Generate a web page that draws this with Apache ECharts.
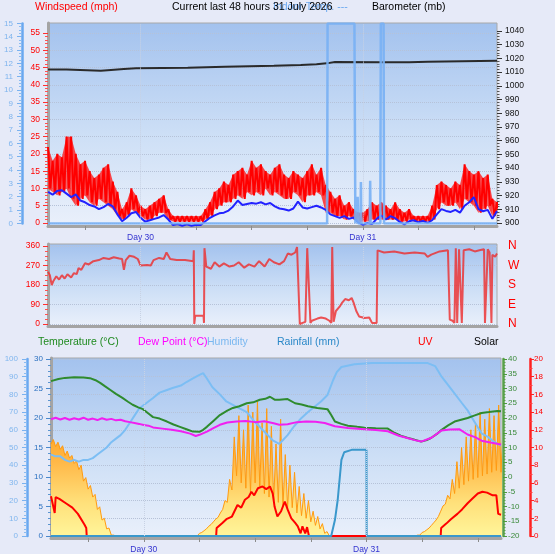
<!DOCTYPE html>
<html><head><meta charset="utf-8">
<script src="https://cdn.jsdelivr.net/npm/echarts@6/dist/echarts.min.js"></script>
<style>html,body{margin:0;padding:0;background:#e6eaf8}#c{width:555px;height:554px}</style>
</head><body><div id="c"></div>
<script>
// ---------- DATA (hours relative to midnight starting Day 30) ----------
const startHour = -10, stepHours = 0.5, endHour = 38.5;
const tickHours = [-6, 0, 6, 12, 18, 24, 30, 36];
const dayHours = [0, 24];
const dayLabels = ['Day 30', 'Day 31'];

// Wind (mph), half-hourly
const windAvg = [9.0,8.2,9.3,9.5,8.5,7.5,8.3,6.5,6.0,5.2, 4.8,4.0,4.6,5.5,4.8,2.5,0.5,1.5,2.8,3.2,
  1.5,0.4,0.8,1.2,1.6,2.3,1.0,-0.6,-0.3,-0.8, -0.4,-0.8,-0.5,-0.6,0.5,1.5,2.2,2.8,3.0,3.6,
  4.8,6.5,5.2,5.5,5.8,5.6,6.0,5.4,5.8,4.8, 4.2,4.0,3.6,4.2,6.2,4.5,4.2,4.6,5.0,4.5,
  3.8,2.5,2.0,1.5,2.0,1.2,1.6,0.2,-0.5,0.0, -0.3,1.2,2.2,1.0,2.0,1.4,0.3,-0.4,0.5,0.8,
  0.2,0.6,0.0,0.8,2.5,4.0,3.5,3.2,3.8,3.0, 5.0,6.0,7.5,4.0,3.4,3.8,1.2,3.5];
const gustHigh = [22,18,20,19,25,25,20,17,18,15, 13,14,16,17,12,9,4,6,10,8,
  5,4,5,6,7,8,4,2,2,2, 2,2,2,2,4,6,9,10,12,11,
  14,15,16,14,18,16,17,15,14,16, 17,14,13,15,14,13,15,17,14,16,
  11,9,7,8,5,6,4,3,3,4, 6,5,6,5,4,6,4,3,4,2,
  2,2,2,5,11,12,11,10,12,11, 17,15,14,15,13,14,7,6];
const gustLow = [10,9,8,9,10,7,5,7,8,6, 5,7,6,5,4,2,1,2,4,3,
  2,1,1,2,3,3,1,0.4,0.4,0.4, 0.4,0.4,0.4,0.4,1,2,4,5,6,6,
  7,8,7,9,8,9,8,10,8,9, 8,7,7,9,8,6,8,8,9,8,
  3,3,2,2,1,2,1,0.4,0.4,0.4, 1,1,1,1,1,1,0.4,0.4,1,0.4,
  0.4,0.4,0.4,1,4,6,5,5,6,4, 7,6,5,3,4,5,2,3];

// Barometer (mb)
const baroHours  = [-10,-8,-4.3,-3.2,-1.8,-0.5,5.1,9.1,14.4,17.3,19,20.1,21,26,29,31,38.5];
const baroValues = [1011.9,1011.0,1011.6,1012.3,1012.8,1013.2,1014.0,1014.7,1015.2,1015.7,1016.4,1017.4,1017.2,1017.3,1017.6,1018.3,1018.3];

// Rain rate (light blue, 0-15 axis)
const rateHours  = [-10,20.15,20.2,23.1,23.12,23.2,23.4,23.45,23.5,23.75,23.8,23.85,24.75,24.8,24.85,25.9,25.95,26.25,26.3,38.5];
const rateValues = [0,0,15,15,12,0,0,2,0,0,3.1,0,0,3.2,0,0,15,15,0,0];

// Wind direction (degrees)
const dirHours = [-10,-9.8,-9.6,-9.4,-9.1,-8.8,-8.5,-8.2,-7.9,-7.5,-7.2,-6.9,-6.7,-6.4,-6,-5.6,-5.1,-4.5,-4,-3.4,-2.9,-2.3,-2,-1.8,-1.6,-1.2,-0.7,-0.3,0,0.7,1.1,1.4,2,2.5,2.8,3.2,3.9,4.8,5.7,5.75,5.8,5.9,6.8,6.85,6.9,7.1,7.6,8,8.5,9,9.6,10.1,10.6,11.2,11.7,12.3,12.8,13.4,13.9,14.4,15,15.5,15.9,16.3,16.7,16.9,17.1,17.2,17.5,17.8,18,18.2,18.35,18.5,19.1,19.5,20,20.4,20.6,20.7,20.85,21.1,21.5,21.8,22.1,22.5,22.8,23,23.3,23.6,24.2,24.7,25,25.5,25.6,26.3,27.4,28.5,29.6,30.7,31,31.4,32.3,33.2,33.4,33.7,33.9,34.05,34.2,34.4,34.7,34.9,35.5,36.1,36.6,37.1,37.2,37.4,37.5,37.7,37.9,38,38.3,38.5];
const dirDegrees = [241,225,180,200,220,205,225,210,230,215,235,230,258,250,280,275,290,295,305,300,308,302,300,250,295,315,310,300,270,272,270,295,305,300,330,300,295,295,290,340,0,38,38,5,350,265,255,285,265,280,265,270,285,260,275,265,290,265,300,285,275,290,325,320,330,355,350,0,5,10,350,355,5,15,25,30,25,15,5,355,10,60,80,100,115,110,120,100,60,35,28,30,5,5,340,330,335,325,330,325,310,320,335,340,20,15,5,350,5,345,5,340,345,335,340,345,5,0,345,330,5,320,310,325];

// Temperature / dew point (°C), humidity (%)
const tempHours  = [-10,-9.8,-9.2,-8.5,-7.5,-6.5,-5.8,-5.2,-4.7,-4.2,-3.6,-3,-2.3,-1.7,-1.2,-0.6,-0.1,0.5,1,1.7,2.5,3.2,3.9,4.6,5.3,6,6.4,6.8,7.5,8.2,9,9.6,10.3,11.1,11.8,12.5,13.1,13.6,14.1,14.6,15.5,16.3,17,17.7,18.7,19.8,20.2,20.6,21.3,22,23,23.8,25,26.3,27,27.7,28.4,29.2,29.9,30.5,31,31.6,32.1,32.8,33.5,34.2,34.9,35.6,36.4,37.2,38.1,38.5];
const tempValues = [32.5,32.7,33.2,33.6,33.8,33.7,33.5,32.8,31.9,30.8,29.5,28.2,26.8,25.5,24.5,23.6,23.0,21.5,20.3,19.8,18.8,17.8,17.0,16.2,15.4,15.3,16,17,19,21,22.5,23.4,24,25,25.3,26.2,26.5,27.2,26.2,26.2,26.4,25,24.6,24,23.4,23,21,18.8,18,17.4,17,16.7,16.5,16.4,15,14,13.3,12.6,12,12.5,13.3,14.6,16,17.5,18.8,19.4,20,20.8,21.7,22,22.4,22.3];
const dewHours  = [-10,-9.5,-9,-8.5,-8,-7.5,-7,-6.5,-6,-5.5,-5,-4.5,-4,-3.5,-3,-2.5,-2,-1.5,-1,-0.5,0,0.5,1,2,3,4,5,5.6,6,6.8,7.5,8.2,9,10,11,12,13,14,14.6,15.5,16.5,17.5,18.5,19.5,20.6,22,23.8,25,26.3,27.5,28.4,29.2,29.9,31,32.1,33,34,34.9,35.7,36.4,37.5,38.5];
const dewValues = [19.6,20.1,19.5,20,19.4,19.9,19.5,20.1,19.4,19.8,19.3,19.9,19.4,19.7,19.2,19.4,18.9,18.6,18.3,18,17.6,17.4,16.8,16.4,16,15.5,14.7,13.9,14.3,15.4,16.6,17.7,18.5,18.8,19.0,18.6,18.9,18.2,17.7,17.9,18.6,18.8,18.7,18.3,17.2,16.6,16.2,15.9,15.5,14,13.2,12.5,12,13.3,15.8,16.1,16.2,14.4,13.5,12.3,11.6,11];
const humHours  = [-10,-9.5,-9,-8.5,-8,-7.5,-7,-6.5,-6,-5.5,-5,-4.5,-4,-3.5,-3,-2.5,-2,-1.5,-1,-0.5,0,0.5,1,1.7,2.5,3.1,4,4.6,5.3,6,6.4,6.8,7.4,8.2,8.9,10,11.1,11.8,12.8,13.9,14.6,15.5,16.2,17,17.7,18.4,19.1,19.8,20.4,20.8,21.3,22.7,24.6,30.6,31.4,32.1,33.2,34.3,34.9,35.7,36.4,37.1,37.8,38.5];
const humValues = [46,45,45,43,42,43,42,43,43,44,46,48,50,53,55,57,60,64,68,72,74,76,78,81,82.5,83.6,85,87,89,91,92,89,84,80,76,73,70,65.5,60,54,52,57,62,66.7,70,73,76,79.7,88,92.6,95.5,97,97.7,97.7,96,90,82.5,75,71,64,58,56,53,51];

// Rainfall (mm)
const rainHours  = [-10,20.2,20.6,20.9,21.3,21.6,22.4,24.0,24.02,38.5];
const rainValues = [0,0,2.7,6.1,12.9,14.2,14.6,14.6,0,0];

// UV index
const uvHours  = [-10,-9.8,-9.6,-9.5,-9.1,-8.4,-7.7,-7.1,-6.4,-6.2,-6.15,7.8,7.85,8.5,8.9,9.5,10.1,10.5,10.9,11.3,11.6,11.9,12.3,12.8,13.2,13.6,13.9,14.1,14.4,14.8,15.2,15.5,15.9,16.3,16.6,16.9,17.1,17.4,17.6,17.8,32.0,32.05,32.6,33.1,33.8,34.3,34.9,35.4,36,36.5,37,37.6,38.0,38.2,38.5];
const uvValues = [4.5,4.7,2.6,4.4,4.2,3.7,3.2,2.5,1.3,0.9,0,0,0.9,1.5,1.9,2.2,3.5,3.2,4.1,4.4,5.0,4.6,5.4,5.6,5.3,5.6,4.8,3.3,2.2,2.8,3.9,3.0,2.0,1.5,1.1,0.3,1.1,0.3,1.0,0,0,0.9,1.4,1.9,2.5,3.0,3.7,4.2,4.8,5.0,4.9,4.6,4.6,2.5,2.4];

// Solar (W/m²), half-hourly: lower reading and peak reading within each half hour
const solarLow = [520,505,490,455,440,410,375,310,265,220, 150,90,40,5,0,0,0,0,0,0,
  0,0,0,0,0,0,0,0,0,0, 0,0,15,30,55,80,105,150,190,260,
  340,300,270,240,300,280,240,220,200,190, 170,160,160,130,115,100,80,60,40,15,
  0,0,0,0,0,0,0,0,0,0, 0,0,0,0,0,0,0,0,0,5,
  20,35,60,90,140,180,210,240,270,290, 310,320,330,340,350,360,370,360];
const solarPeak = [545,530,510,480,455,425,400,330,285,235, 165,100,45,5,0,0,0,0,0,0,
  0,0,0,0,0,0,0,0,0,0, 0,0,20,40,65,95,130,200,320,560,
  680,600,740,700,760,640,720,620,520,660, 460,400,360,280,240,200,140,110,70,25,
  0,0,0,0,0,0,0,0,0,0, 0,0,0,0,0,0,0,0,0,5,
  25,45,75,110,170,230,320,420,500,560, 600,640,700,660,720,680,740,650];

// ---------- BUILD ----------
const pairs = (xs, ys) => xs.map((x, i) => [x, ys[i]]);
const halfHourly = arr => arr.map((v, i) => [startHour + i * stepHours, v]);
function interleave(first, second) {
  const out = [];
  first.forEach((v, i) => {
    const h = startHour + i * stepHours;
    out.push([h, v]);
    out.push([h + stepHours / 2, second[i]]);
  });
  return out;
}
const gustBandData = gustLow.map((lo, i) => [startHour + i * stepHours, lo, gustHigh[i]]);

const FONT = '"Liberation Sans", Arial, sans-serif';
const chart = echarts.init(document.getElementById('c'), null, {renderer: 'canvas'});
const bg = () => new echarts.graphic.LinearGradient(0, 0, 0, 1, [
  {offset: 0, color: '#a3c2ee'}, {offset: 0.55, color: '#cddff6'}, {offset: 1, color: '#eaf0fb'}]);

const frameGrid = (left, top, width, height) => ({left, top, width, height, show: true,
  backgroundColor: bg(), borderColor: '#a8a8a8', borderWidth: 1});
const grid = [
  frameGrid(48, 23, 449, 203),                 // 0 frame top
  {left: 48, top: 33, width: 449, height: 190},  // 1 wind
  {left: 48, top: 31, width: 449, height: 192},  // 2 baro
  {left: 48, top: 23.4, width: 449, height: 200},// 3 rain rate
  frameGrid(48, 244, 449, 82),                 // 4 frame middle
  {left: 48, top: 246, width: 449, height: 78},  // 5 direction
  frameGrid(51, 358, 450, 180),                // 6 frame bottom
  {left: 51, top: 359, width: 450, height: 177}  // 7 temp etc
];

const hiddenX = gi => ({type: 'value', gridIndex: gi, min: startHour, max: endHour, show: false});
const frameX = (gi, withLabels, margin) => ({
  type: 'value', gridIndex: gi, min: startHour, max: endHour,
  axisLine: {show: true, onZero: false, lineStyle: {color: '#a4a4a4', width: 3}},
  axisTick: {show: withLabels, customValues: tickHours, length: 4, lineStyle: {color: '#8c8c8c'}},
  axisLabel: {show: withLabels, customValues: dayHours, margin: margin,
    formatter: v => dayLabels[dayHours.indexOf(v)] || '', color: '#3434d0', fontSize: 8.5, fontFamily: FONT},
  splitLine: {show: false}
});
const xAxis = [frameX(0, true, 7), hiddenX(1), hiddenX(2), hiddenX(3),
  frameX(4, false, 0), hiddenX(5), frameX(6, true, 7), hiddenX(7)];

const frameY = gi => ({type: 'value', gridIndex: gi, min: 0, max: 1,
  axisLine: {show: true, onZero: false, lineStyle: {color: '#a4a4a4', width: 3}},
  axisTick: {show: false}, axisLabel: {show: false}, splitLine: {show: false}});
const dotted = {show: true, lineStyle: {color: '#b6c2d8', type: 'dotted', width: 1}};
const plain = v => String(v);
const lab = (color, extra) => Object.assign({color, fontSize: 8.5, fontFamily: FONT, formatter: plain}, extra || {});
const noLine = {show: false, onZero: false};
const yAxis = [
  frameY(0),
  {type: 'value', gridIndex: 1, min: 0, max: 55, interval: 5, axisLine: noLine,
    axisTick: {show: true, length: 5, lineStyle: {color: '#ff3030'}},
    minorTick: {show: true, splitNumber: 5, length: 3, lineStyle: {color: '#ff5050'}},
    axisLabel: lab('#ff0000', {margin: 8}), splitLine: dotted},
  {type: 'value', gridIndex: 2, position: 'right', min: 900, max: 1040, interval: 10, axisLine: noLine,
    axisTick: {show: true, length: 5, lineStyle: {color: '#333'}},
    minorTick: {show: true, splitNumber: 5, length: 2.5, lineStyle: {color: '#555'}},
    axisLabel: lab('#111', {margin: 8}), splitLine: {show: false}},
  {type: 'value', gridIndex: 3, position: 'left', offset: 26, min: 0, max: 15, interval: 1,
    axisLine: {show: true, onZero: false, lineStyle: {color: '#6aa8f0', width: 2.5}},
    axisTick: {show: true, length: 5, lineStyle: {color: '#7ab2f0'}},
    minorTick: {show: true, splitNumber: 4, length: 3, lineStyle: {color: '#8abcf2'}},
    axisLabel: lab('#7eb4ee', {margin: 9, fontSize: 8}), splitLine: {show: false}},
  frameY(4),
  {type: 'value', gridIndex: 5, min: 0, max: 360, interval: 90, axisLine: noLine,
    axisTick: {show: true, length: 5, lineStyle: {color: '#ff3030'}},
    minorTick: {show: true, splitNumber: 4, length: 3, lineStyle: {color: '#ff5050'}},
    axisLabel: lab('#ff0000', {margin: 8}), splitLine: dotted},
  {type: 'value', gridIndex: 5, position: 'right', min: 0, max: 360, interval: 90, axisLine: noLine,
    axisTick: {show: false}, splitLine: {show: false},
    axisLabel: {color: '#ff0000', fontSize: 12, fontFamily: FONT, margin: 11, padding: [6, 0, 0, 0],
      formatter: v => ({0: 'N', 90: 'E', 180: 'S', 270: 'W', 360: 'N'})[v]}},
  frameY(6),
  {type: 'value', gridIndex: 7, position: 'left', offset: 24, min: 0, max: 100, interval: 10,
    axisLine: {show: true, onZero: false, lineStyle: {color: '#6aa8f0', width: 2.5}},
    axisTick: {show: true, length: 5, lineStyle: {color: '#7ab2f0'}},
    minorTick: {show: true, splitNumber: 5, length: 3, lineStyle: {color: '#8abcf2'}},
    axisLabel: lab('#80b6ee', {margin: 9, fontSize: 8}), splitLine: dotted},
  {type: 'value', gridIndex: 7, position: 'left', offset: 0, min: 0, max: 30, interval: 5, axisLine: noLine,
    axisTick: {show: true, length: 5, lineStyle: {color: '#4a88cc'}},
    minorTick: {show: true, splitNumber: 5, length: 3, lineStyle: {color: '#5a94d0'}},
    axisLabel: lab('#2a70c0', {margin: 8, fontSize: 8}), splitLine: {show: false}},
  {type: 'value', gridIndex: 7, position: 'right', offset: 2, min: -20, max: 40, interval: 5,
    axisLine: {show: true, onZero: false, lineStyle: {color: '#5aa04a', width: 2.5}},
    axisTick: {show: true, length: 4, lineStyle: {color: '#4a9a3a'}},
    minorTick: {show: true, splitNumber: 5, length: 2.5, lineStyle: {color: '#5aa04a'}},
    axisLabel: lab('#3a8a3a', {margin: 5, fontSize: 8}), splitLine: {show: false}},
  {type: 'value', gridIndex: 7, position: 'right', offset: 29, min: 0, max: 20, interval: 2,
    axisLine: {show: true, onZero: false, lineStyle: {color: '#ff2020', width: 2.5}},
    axisTick: {show: true, length: 4, lineStyle: {color: '#ff2020'}},
    minorTick: {show: true, splitNumber: 2, length: 2.5, lineStyle: {color: '#ff4040'}},
    axisLabel: lab('#ff0000', {margin: 4, fontSize: 8}), splitLine: {show: false}},
  {type: 'value', gridIndex: 7, min: 0, max: 1000, show: false, axisLine: noLine}
];

const midnightLines = (color) => ({silent: true, symbol: 'none', animation: false, label: {show: false},
  lineStyle: {color: color, type: 'dotted', width: 1}, data: dayHours.map(h => ({xAxis: h}))});
const base = {type: 'line', symbol: 'none', showSymbol: false, animation: false, silent: true};

// band between gust low and gust high, drawn through the axis scales
function renderGustBand(params, api) {
  const i = params.dataIndex;
  if (i >= gustBandData.length - 1) return null;
  const a = gustBandData[i], b = gustBandData[i + 1];
  const pts = [api.coord([a[0], a[1]]), api.coord([a[0], a[2]]), api.coord([b[0], b[2]]), api.coord([b[0], b[1]])];
  return {type: 'polygon', shape: {points: pts}, style: {fill: '#ff1a1a', opacity: 0.8, stroke: null}};
}

const series = [
  Object.assign({}, base, {name: 'Midnights', xAxisIndex: 3, yAxisIndex: 3, z: 1,
    data: [], markLine: midnightLines('#c8d2e4')}),
  Object.assign({}, base, {name: 'Barometer', xAxisIndex: 2, yAxisIndex: 2, step: 'end',
    data: pairs(baroHours, baroValues), lineStyle: {color: '#2a2a2a', width: 2}}),
  {type: 'custom', name: 'Gust band', xAxisIndex: 1, yAxisIndex: 1, silent: true, animation: false, clip: false,
    encode: {x: 0, y: [1, 2]}, data: gustBandData, renderItem: renderGustBand},
  Object.assign({}, base, {name: 'Gust', xAxisIndex: 1, yAxisIndex: 1, clip: false,
    data: interleave(gustHigh, gustLow), lineStyle: {color: '#ff0000', width: 2}}),
  Object.assign({}, base, {name: 'Wind', xAxisIndex: 1, yAxisIndex: 1, clip: false,
    data: halfHourly(windAvg), lineStyle: {color: '#2222ff', width: 2}}),
  Object.assign({}, base, {name: 'Rain rate', xAxisIndex: 3, yAxisIndex: 3,
    data: pairs(rateHours, rateValues), lineStyle: {color: '#78b0f4', width: 2.5, opacity: 0.9}}),
  Object.assign({}, base, {name: 'Direction', xAxisIndex: 5, yAxisIndex: 5,
    data: pairs(dirHours, dirDegrees), lineStyle: {color: '#ee2a2a', width: 2, opacity: 0.8},
    markLine: midnightLines('#c8d2e4')}),
  Object.assign({}, base, {name: 'Solar', xAxisIndex: 7, yAxisIndex: 12,
    data: interleave(solarLow, solarPeak), lineStyle: {color: '#ff9a10', width: 1},
    areaStyle: {opacity: 1, color: new echarts.graphic.LinearGradient(0, 0, 0, 1, [
      {offset: 0, color: '#ff9200'}, {offset: 0.45, color: '#ffb848'}, {offset: 0.75, color: '#ffe07a'}, {offset: 1, color: '#fff59a'}])},
    markLine: midnightLines('#c8d2e4')}),
  Object.assign({}, base, {name: 'UV', xAxisIndex: 7, yAxisIndex: 11,
    data: pairs(uvHours, uvValues), lineStyle: {color: '#ff0000', width: 2}}),
  Object.assign({}, base, {name: 'Rainfall', xAxisIndex: 7, yAxisIndex: 9,
    data: pairs(rainHours, rainValues), lineStyle: {color: '#3a98cc', width: 2}}),
  Object.assign({}, base, {name: 'Humidity', xAxisIndex: 7, yAxisIndex: 8,
    data: pairs(humHours, humValues), lineStyle: {color: '#7cbef4', width: 2}}),
  Object.assign({}, base, {name: 'Temperature', xAxisIndex: 7, yAxisIndex: 10,
    data: pairs(tempHours, tempValues), lineStyle: {color: '#2e8b2e', width: 2}}),
  Object.assign({}, base, {name: 'Dew Point', xAxisIndex: 7, yAxisIndex: 10,
    data: pairs(dewHours, dewValues), lineStyle: {color: '#f020f0', width: 2}})
];

const txt = (text, x, y, fill) => ({type: 'text', x, y, silent: true, z: 10,
  style: {text, fill, font: '10.5px ' + FONT, textVerticalAlign: 'middle', verticalAlign: 'middle'}});
const graphic = [
  txt('Windspeed (mph)', 35, 7, '#ff0000'),
  txt('Indoor Temp. ---', 273, 7, '#6aa8f0'),
  txt('Current last 48 hours 31 July 2026', 172, 7, '#000000'),
  txt('Barometer (mb)', 372, 7, '#000000'),
  txt('Temperature (°C)', 38, 342, '#1f8a1f'),
  txt('Dew Point (°C)', 138, 342, '#ff00ff'),
  txt('Humidity', 207, 342, '#7ab8f0'),
  txt('Rainfall (mm)', 277, 342, '#2a88c8'),
  txt('UV', 418, 342, '#ff0000'),
  txt('Solar', 474, 342, '#000000')
];

chart.setOption({
  backgroundColor: '#e6eaf8',
  animation: false,
  textStyle: {fontFamily: FONT},
  grid, xAxis, yAxis, series, graphic
});
</script></body></html>
